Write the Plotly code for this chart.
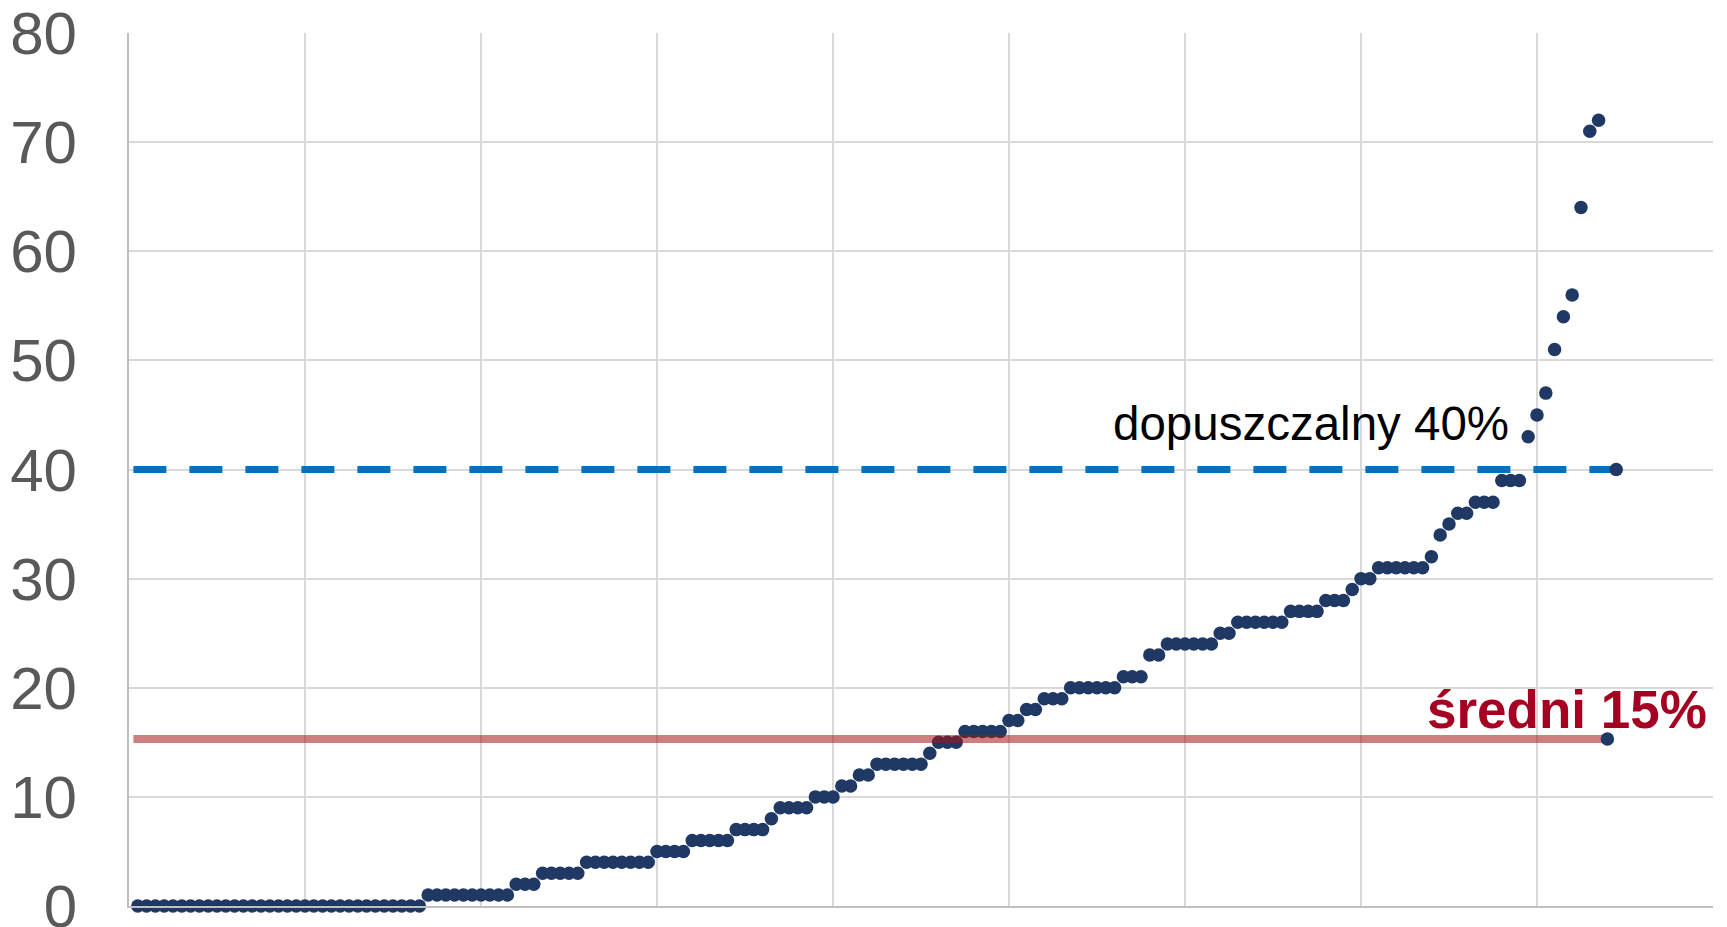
import numpy as np
import plotly.graph_objects as go

# sorted values (one point per unit on x)
levels = [0, 1, 2, 3, 4, 5, 6, 7, 8, 9, 10, 11, 12, 13, 14, 15, 16, 17, 18, 19, 20,
          21, 23, 24, 25, 26, 27, 28, 29, 30, 31, 32, 34, 35, 36, 37, 39,
          43, 45, 47, 51, 54, 56, 64, 71, 72]
counts = [33, 10, 3, 5, 8, 4, 5, 4, 1, 4, 3, 2, 2, 6, 1, 3, 5, 2, 2, 3, 6,
          3, 2, 6, 2, 6, 4, 3, 1, 2, 6, 1, 1, 1, 2, 3, 3,
          1, 1, 1, 1, 1, 1, 1, 1, 1]
values = []
for v, c in zip(levels, counts):
    values += [v] * c
x_vals = list(range(1, len(values) + 1))

limit_value = 40
limit_label = "dopuszczalny 40%"
mean_value = round(float(np.mean(values)), 1)
mean_label = "średni 15%"

line_start = 0.5
mean_end = len(values) + 1
limit_end = len(values) + 2

y_ticks = [0, 10, 20, 30, 40, 50, 60, 70, 80]

navy = "#1F3864"
msize = 13.5

fig = go.Figure()
fig.add_trace(go.Scatter(x=x_vals, y=values, mode="markers",
                         marker=dict(color=navy, size=msize, line=dict(width=0)),
                         showlegend=False, hoverinfo="skip", cliponaxis=False))
fig.add_trace(go.Scatter(x=[line_start, mean_end], y=[mean_value, mean_value], mode="lines",
                         line=dict(color="rgba(165,20,20,0.55)", width=8),
                         showlegend=False, hoverinfo="skip"))
fig.add_trace(go.Scatter(x=[line_start, limit_end], y=[limit_value, limit_value], mode="lines",
                         line=dict(color="#0070C0", width=7, dash="33px,23px"),
                         showlegend=False, hoverinfo="skip"))
fig.add_trace(go.Scatter(x=[mean_end, limit_end], y=[mean_value, limit_value], mode="markers",
                         marker=dict(color=navy, size=msize, line=dict(width=0)),
                         showlegend=False, hoverinfo="skip"))

fig.add_annotation(x=157, y=44.2, xref="x", yref="y", text=limit_label, showarrow=False,
                   xanchor="right", yanchor="middle",
                   font=dict(family="Liberation Sans, Arial", size=47.5, color="#000000"))
fig.add_annotation(x=179.5, y=18.0, xref="x", yref="y", text="<b>" + mean_label + "</b>",
                   showarrow=False, xanchor="right", yanchor="middle",
                   font=dict(family="Liberation Sans, Arial", size=53, color="#A50021"))

# page body has an 8px default margin, compensate in plot margins
fig.update_layout(
    width=1727, height=927,
    margin=dict(l=121, r=22, t=25, b=29),
    paper_bgcolor="white", plot_bgcolor="white",
    xaxis=dict(range=[0, 180], dtick=20, tick0=0, showticklabels=False,
               showgrid=True, gridcolor="#D9D9D9", gridwidth=2,
               showline=True, linecolor="#BFBFBF", linewidth=2, zeroline=False,
               ticks="", automargin=False),
    yaxis=dict(range=[0, 80], tickvals=y_ticks, ticktext=[str(t) for t in y_ticks],
               showgrid=True, gridcolor="#D9D9D9", gridwidth=2,
               showline=True, linecolor="#BFBFBF", linewidth=2, zeroline=False,
               ticks="", ticklabelstandoff=38, automargin=False,
               ticklabeloverflow="allow",
               tickfont=dict(family="Liberation Sans, Arial", size=60, color="#595959")),
)

fig.write_html("out.html")
